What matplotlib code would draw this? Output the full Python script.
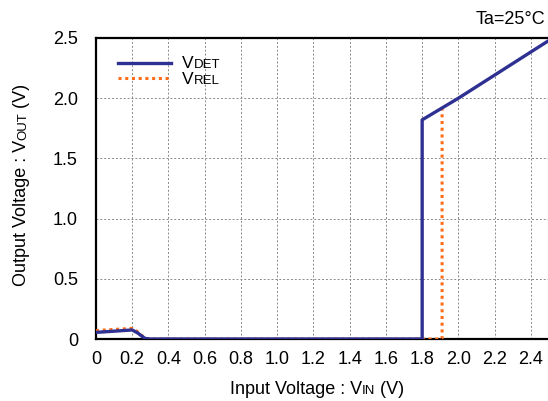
import matplotlib
matplotlib.use("Agg")
import matplotlib.pyplot as plt
from matplotlib.transforms import IdentityTransform

plt.rcParams['font.family'] = ['Liberation Sans', 'DejaVu Sans']

# VDET (detect) trace
vdet_x = [0.0, 0.1, 0.2, 0.23, 0.27, 0.3, 1.0, 1.8, 1.8, 2.0, 2.5]
vdet_y = [0.055, 0.065, 0.075, 0.05, 0.005, 0.0, 0.0, 0.0, 1.82, 2.0, 2.48]
# VREL (release) trace
vrel_x = [0.0, 0.1, 0.2, 0.23, 0.27, 0.3, 1.0, 1.8, 1.91, 1.91]
vrel_y = [0.07, 0.08, 0.088, 0.06, 0.005, 0.0, 0.0, 0.0, 0.0, 1.91]

x_ticks = [0, 0.2, 0.4, 0.6, 0.8, 1.0, 1.2, 1.4, 1.6, 1.8, 2.0, 2.2, 2.4]
x_labels = ['0', '0.2', '0.4', '0.6', '0.8', '1.0', '1.2', '1.4', '1.6', '1.8', '2.0', '2.2', '2.4']
y_ticks = [0, 0.5, 1.0, 1.5, 2.0, 2.5]
y_labels = ['0', '0.5', '1.0', '1.5', '2.0', '2.5']

blue = '#2e3192'
orange = '#ff6d1a'

fig = plt.figure(figsize=(5.48, 4.01), dpi=100)
ax = fig.add_axes([96 / 548, 62 / 401, 453 / 548, 301 / 401])

l_rel, = ax.plot(vrel_x, vrel_y, color=orange, lw=2.2, ls=(0, (1, 1.2)), zorder=3)
l_det, = ax.plot(vdet_x, vdet_y, color=blue, lw=2.4, zorder=4)

ax.set_xlim(0, 2.5)
ax.set_ylim(0, 2.5)
ax.set_xticks(x_ticks)
ax.set_xticklabels(x_labels)
ax.set_yticks(y_ticks)
ax.set_yticklabels(y_labels)
ax.tick_params(length=0, labelsize=13, colors='black')
ax.tick_params(axis='x', pad=9)
ax.tick_params(axis='y', pad=13)
ax.grid(True, color='#8a8a8a', ls=(0, (2, 2)), lw=0.7)
for s in ['left', 'bottom', 'top']:
    ax.spines[s].set_linewidth(1.6)
ax.spines['right'].set_visible(False)

# legend handles only; the label text is drawn as compound pieces below
ax.legend(handles=[l_det, l_rel], labels=['', ''], loc='upper left', frameon=False,
          bbox_to_anchor=(22 / 453, 1 - 19 / 301), borderaxespad=0, borderpad=0,
          handlelength=3.5, handletextpad=0, labelspacing=0.1, fontsize=11)

fig.canvas.draw()
renderer = fig.canvas.get_renderer()
H = 401


def compound(x, y, parts, rotation=0, align='left'):
    # parts: list of (text, size); x, y in pixels from top-left, y is baseline
    texts = []
    widths = []
    for s, size in parts:
        t = fig.text(0, 0, s, fontsize=size, transform=IdentityTransform(),
                     ha='left', va='baseline', rotation_mode='anchor')
        widths.append(t.get_window_extent(renderer).width)
        texts.append(t)
    total = sum(widths)
    off = -total / 2 if align == 'center' else (-total if align == 'right' else 0)
    for t, w in zip(texts, widths):
        if rotation == 90:
            t.set_position((x, H - y + off))
            t.set_rotation(90)
        else:
            t.set_position((x + off, H - y))
        off += w


compound(317, 394, [('Input Voltage : V', 13), ('IN', 9.5), (' (V)', 13)], align='center')
compound(26, 185, [('Output Voltage : V', 13), ('OUT', 9.5), (' (V)', 13)], rotation=90, align='center')
compound(545, 24, [('Ta=25°C', 13)], align='right')
compound(182, 68, [('V', 12.5), ('DET', 9.5)])
compound(182, 84, [('V', 12.5), ('REL', 9.5)])

fig.savefig('out.png', dpi=100)
